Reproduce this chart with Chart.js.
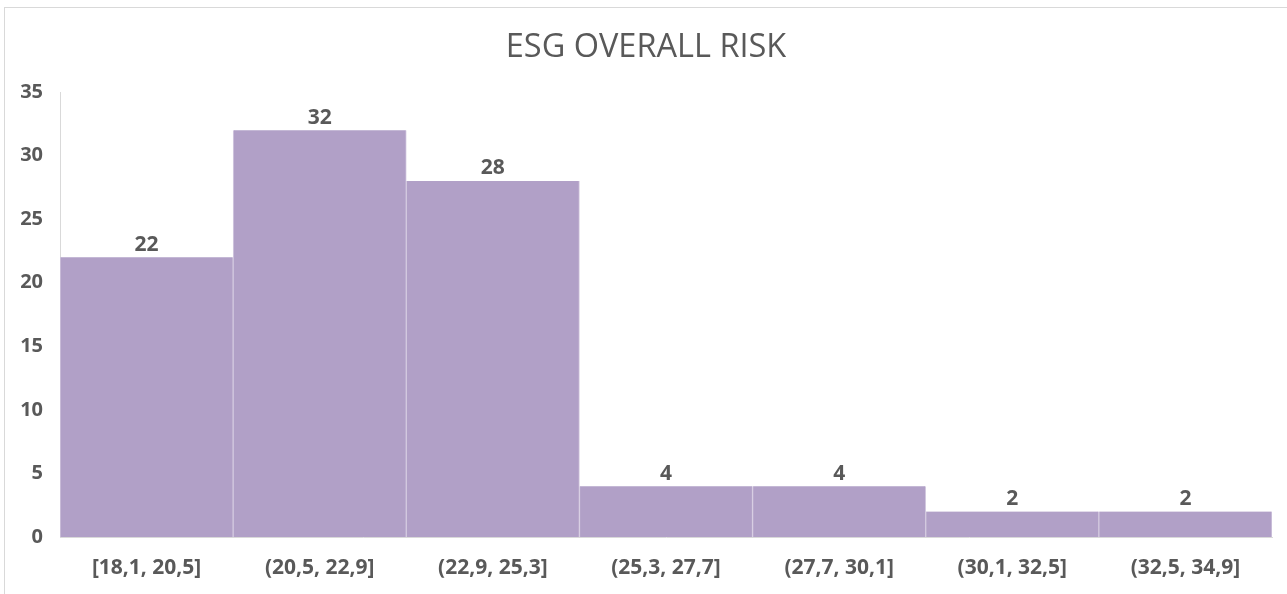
<!DOCTYPE html>
<html>
<head>
<meta charset="utf-8">
<script src="https://cdn.jsdelivr.net/npm/chart.js@4.4.1/dist/chart.umd.min.js"></script>
<style>
  html, body { margin: 0; padding: 0; background: #ffffff; overflow: hidden; }
  #frame {
    position: absolute; left: 4px; top: 7px; width: 1400px; height: 700px;
    border-left: 1px solid #d9d9d9; border-top: 1px solid #d9d9d9;
  }
  #wrap { position: absolute; left: 0; top: 0; width: 1287px; height: 594px; }
</style>
</head>
<body>
<div id="frame"></div>
<div id="wrap"><canvas id="chart" width="1287" height="594"></canvas></div>
<script>
// Histogram bins of the ESG overall risk score
const binLabels = ['[18,1, 20,5]', '(20,5, 22,9]', '(22,9, 25,3]', '(25,3, 27,7]', '(27,7, 30,1]', '(30,1, 32,5]', '(32,5, 34,9]'];
const binCounts = [22, 32, 28, 4, 4, 2, 2];
const yTicks = [0, 5, 10, 15, 20, 25, 30, 35];
const chartTitle = 'ESG OVERALL RISK';

const TEXT_GREY = '#595959';
const FONT = '"Open Sans", "Liberation Sans", sans-serif';

// Title centred over the whole frame
const frameTitle = {
  id: 'frameTitle',
  afterDraw(chart) {
    const ctx = chart.ctx;
    ctx.save();
    ctx.fillStyle = TEXT_GREY;
    ctx.font = '32.5px ' + FONT;
    ctx.textAlign = 'center';
    ctx.textBaseline = 'alphabetic';
    ctx.fillText(chartTitle, 646, 57);
    ctx.restore();
  }
};

// Writes each bar's count just above it
const barValueLabels = {
  id: 'barValueLabels',
  afterDatasetsDraw(chart) {
    const ctx = chart.ctx;
    const meta = chart.getDatasetMeta(0);
    ctx.save();
    ctx.fillStyle = TEXT_GREY;
    ctx.font = 'bold 21px ' + FONT;
    ctx.textAlign = 'center';
    ctx.textBaseline = 'bottom';
    meta.data.forEach((bar, i) => {
      ctx.fillText(String(chart.data.datasets[0].data[i]), bar.x, bar.y - 2);
    });
    ctx.restore();
  }
};

new Chart(document.getElementById('chart'), {
  type: 'bar',
  data: {
    labels: binLabels,
    datasets: [{
      data: binCounts,
      backgroundColor: '#B1A0C7',
      borderColor: '#D4CAE0',
      borderWidth: { left: 1, right: 1, top: 0, bottom: 0 },
      borderSkipped: false,
      categoryPercentage: 1.0,
      barPercentage: 1.0
    }]
  },
  options: {
    responsive: false,
    animation: false,
    devicePixelRatio: 1,
    layout: { padding: { left: 0, right: 15, top: 92, bottom: 0 } },
    plugins: {
      legend: { display: false },
      tooltip: { enabled: false },
      title: { display: false }
    },
    scales: {
      x: {
        grid: { display: false, drawTicks: false },
        border: { display: true, color: '#d9d9d9', width: 1 },
        ticks: {
          color: TEXT_GREY,
          font: { family: FONT, size: 21, weight: 'bold' },
          padding: 18,
          maxRotation: 0,
          autoSkip: false
        },
        afterFit(scale) { scale.height = 57; }
      },
      y: {
        min: 0,
        max: yTicks[yTicks.length - 1],
        afterBuildTicks(scale) { scale.ticks = yTicks.map(v => ({ value: v })); },
        grid: { display: false, drawTicks: false },
        border: { display: true, color: '#d9d9d9', width: 1 },
        ticks: {
          color: TEXT_GREY,
          font: { family: FONT, size: 20, weight: 'bold' },
          padding: 17
        },
        afterFit(scale) { scale.width = 60; }
      }
    }
  },
  plugins: [barValueLabels, frameTitle]
});
</script>
</body>
</html>
